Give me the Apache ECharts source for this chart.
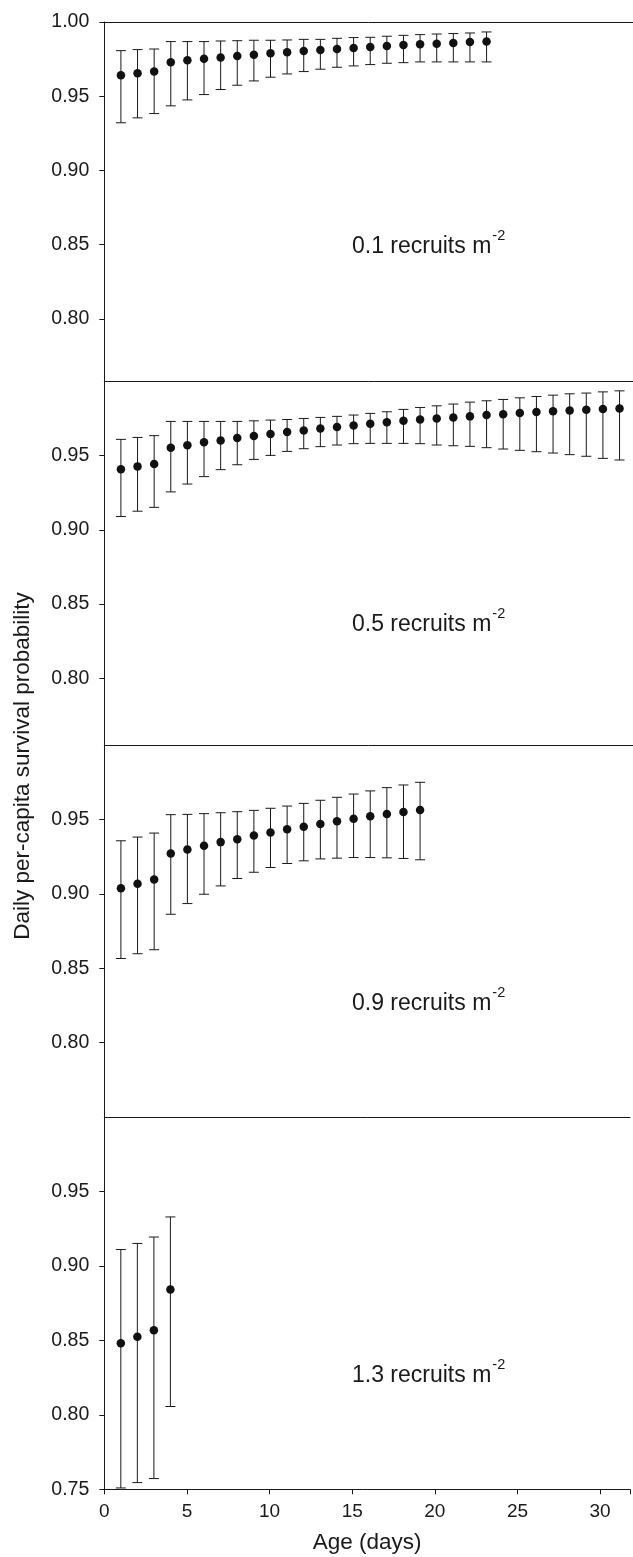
<!DOCTYPE html>
<html><head><meta charset="utf-8">
<script src="https://cdn.jsdelivr.net/npm/echarts@6/dist/echarts.min.js"></script>
<style>html,body{margin:0;padding:0;background:#fff}#c{width:633px;height:1557px}</style>
</head><body><div id="c"></div>
<script>
// ---------- data ----------
const ages1 = [1,2,3,4,5,6,7,8,9,10,11,12,13,14,15,16,17,18,19,20,21,22,23];
const mean1 = [0.9641,0.9655,0.9666,0.9729,0.9742,0.9753,0.9760,0.9771,0.9780,0.9789,0.9796,0.9805,0.9812,0.9818,0.9825,0.9832,0.9839,0.9845,0.9850,0.9854,0.9859,0.9865,0.9868];
const upper1 = [0.9807,0.9814,0.9818,0.9868,0.9868,0.9868,0.9872,0.9874,0.9877,0.9877,0.9879,0.9883,0.9883,0.9890,0.9895,0.9897,0.9904,0.9910,0.9915,0.9919,0.9922,0.9926,0.9933];
const lower1 = [0.9321,0.9354,0.9383,0.9435,0.9475,0.9511,0.9545,0.9574,0.9603,0.9628,0.9650,0.9666,0.9682,0.9695,0.9704,0.9713,0.9722,0.9726,0.9731,0.9731,0.9731,0.9731,0.9731];

const ages2 = [1,2,3,4,5,6,7,8,9,10,11,12,13,14,15,16,17,18,19,20,21,22,23,24,25,26,27,28,29,30,31];
const mean2 = [0.9408,0.9428,0.9444,0.9554,0.9570,0.9590,0.9603,0.9619,0.9632,0.9646,0.9659,0.9670,0.9684,0.9693,0.9704,0.9715,0.9726,0.9735,0.9744,0.9751,0.9758,0.9765,0.9774,0.9780,0.9787,0.9794,0.9800,0.9805,0.9809,0.9814,0.9818];
const upper2 = [0.9610,0.9623,0.9635,0.9731,0.9731,0.9731,0.9731,0.9731,0.9735,0.9740,0.9744,0.9751,0.9758,0.9765,0.9774,0.9785,0.9796,0.9812,0.9825,0.9836,0.9848,0.9861,0.9870,0.9879,0.9890,0.9899,0.9908,0.9917,0.9922,0.9930,0.9937];
const lower2 = [0.9090,0.9126,0.9152,0.9256,0.9309,0.9359,0.9406,0.9439,0.9475,0.9502,0.9529,0.9547,0.9561,0.9572,0.9581,0.9583,0.9583,0.9583,0.9581,0.9572,0.9567,0.9563,0.9554,0.9545,0.9536,0.9527,0.9518,0.9507,0.9496,0.9482,0.9471];

const ages3 = [1,2,3,4,5,6,7,8,9,10,11,12,13,14,15,16,17,18,19];
const mean3 = [0.9038,0.9068,0.9097,0.9273,0.9300,0.9324,0.9349,0.9369,0.9394,0.9414,0.9435,0.9453,0.9471,0.9489,0.9507,0.9523,0.9538,0.9552,0.9565];
const upper3 = [0.9358,0.9383,0.9410,0.9534,0.9536,0.9541,0.9547,0.9554,0.9563,0.9577,0.9592,0.9610,0.9631,0.9651,0.9673,0.9694,0.9716,0.9734,0.9752];
const lower3 = [0.8565,0.8597,0.8624,0.8863,0.8935,0.8998,0.9054,0.9104,0.9146,0.9178,0.9205,0.9223,0.9236,0.9241,0.9245,0.9245,0.9243,0.9239,0.9230];

const ages4 = [1,2,3,4];
const mean4 = [0.8480,0.8525,0.8568,0.8842];
const upper4 = [0.9110,0.9151,0.9194,0.9329];
const lower4 = [0.7509,0.7545,0.7572,0.8056];

const panelLabels = ["0.1 recruits m", "0.5 recruits m", "0.9 recruits m", "1.3 recruits m"];
const panelSup = "-2";
const xTicks = [0, 5, 10, 15, 20, 25, 30];
const yTicks1 = [0.80, 0.85, 0.90, 0.95, 1.00];
const yTicks2 = [0.80, 0.85, 0.90, 0.95];
const yTicks3 = [0.80, 0.85, 0.90, 0.95];
const yTicks4 = [0.75, 0.80, 0.85, 0.90, 0.95];
const yTitle = "Daily per-capita survival probability";
const xTitle = "Age (days)";

// ---------- layout ----------
const FONT = '"Liberation Sans", Arial, Helvetica, sans-serif';
const INK = '#1a1a1a';
const LEFT = 104.3;
const XMAX = 31.81;
const panels = [
  {top: 22,    height: 359,   ymin: 0.7581, ticks: yTicks1, ages: ages1, mean: mean1, lo: lower1, hi: upper1, labelBase: 254},
  {top: 381.5, height: 364,   ymin: 0.7547, ticks: yTicks2, ages: ages2, mean: mean2, lo: lower2, hi: upper2, labelBase: 632},
  {top: 745.5, height: 371.5, ymin: 0.7497, ticks: yTicks3, ages: ages3, mean: mean3, lo: lower3, hi: upper3, labelBase: 1011},
  {top: 1117,  height: 372.3, ymin: 0.75,   ticks: yTicks4, ages: ages4, mean: mean4, lo: lower4, hi: upper4, labelBase: 1383}
];

const grid = [], xAxis = [], yAxis = [], series = [], graphic = [];
panels.forEach((p, i) => {
  grid.push({left: LEFT, right: 0, top: p.top, height: p.height, containLabel: false});
  const isLast = i === panels.length - 1;
  xAxis.push({
    type: 'value', gridIndex: i, min: 0, max: XMAX, interval: 5, position: 'bottom',
    show: isLast,
    axisLine: {show: true, lineStyle: {color: INK, width: 1}},
    axisTick: {show: true, length: 5, inside: false, lineStyle: {color: INK}},
    axisLabel: {show: true, margin: 13, fontSize: 19, color: INK, fontFamily: FONT,
      formatter: v => xTicks.indexOf(v) >= 0 ? String(v) : ''},
    splitLine: {show: false},
    name: isLast ? xTitle : '', nameLocation: 'middle', nameGap: 42,
    nameTextStyle: {fontSize: 22.5, color: INK, fontFamily: FONT}
  });
  xAxis.push({
    type: 'value', gridIndex: i, min: 0, max: XMAX, position: 'top',
    axisLine: {show: true, lineStyle: {color: INK, width: 1}},
    axisTick: {show: false}, axisLabel: {show: false}, splitLine: {show: false}
  });
  yAxis.push({
    type: 'value', gridIndex: i, min: p.ymin, max: 1.0,
    axisLine: {show: true, lineStyle: {color: INK, width: 1}},
    axisTick: {show: true, length: 5, customValues: p.ticks, lineStyle: {color: INK}},
    axisLabel: {show: true, margin: 15, fontSize: 19.5, color: INK, fontFamily: FONT,
      customValues: p.ticks, formatter: v => Number(v).toFixed(2)},
    splitLine: {show: false}
  });
  const errData = p.ages.map((a, k) => [a, p.lo[k], p.hi[k]]);
  series.push({
    type: 'custom', xAxisIndex: 2 * i, yAxisIndex: i, clip: false,
    data: errData, encode: {x: 0, y: [1, 2]}, silent: true,
    renderItem: (params, api) => {
      const x = api.value(0), lo = api.value(1), hi = api.value(2);
      const a = api.coord([x, hi]), b = api.coord([x, lo]);
      const w = 5, st = {stroke: INK, lineWidth: 1};
      return {type: 'group', children: [
        {type: 'line', shape: {x1: a[0], y1: a[1], x2: b[0], y2: b[1]}, style: st},
        {type: 'line', shape: {x1: a[0] - w, y1: a[1], x2: a[0] + w, y2: a[1]}, style: st},
        {type: 'line', shape: {x1: b[0] - w, y1: b[1], x2: b[0] + w, y2: b[1]}, style: st}
      ]};
    }
  });
  series.push({
    type: 'scatter', xAxisIndex: 2 * i, yAxisIndex: i, symbol: 'circle', symbolSize: 8.5,
    itemStyle: {color: '#111', opacity: 1}, silent: true, z: 3,
    data: p.ages.map((a, k) => [a, p.mean[k]])
  });
  graphic.push({
    type: 'text', left: 352, top: p.labelBase - 8 - 18, z: 10, silent: true,
    style: {
      text: '{m|' + panelLabels[i] + '}{s|' + panelSup + '}',
      rich: {
        m: {fontSize: 23, lineHeight: 23, fontFamily: FONT, fill: INK, color: INK},
        s: {fontSize: 14.5, lineHeight: 14.5, padding: [0, 0, 22, 1], fontFamily: FONT, fill: INK, color: INK}
      }
    }
  });
});

graphic.push({
  type: 'text', x: 23, y: 766, rotation: Math.PI / 2, silent: true,
  style: {text: yTitle, fontSize: 22.5, fontFamily: FONT, fill: INK, align: 'center', verticalAlign: 'middle'}
});

const chart = echarts.init(document.getElementById('c'), null, {renderer: 'canvas'});
chart.setOption({
  animation: false, backgroundColor: '#fff',
  grid, xAxis, yAxis, series, graphic
});
</script>
</body></html>
